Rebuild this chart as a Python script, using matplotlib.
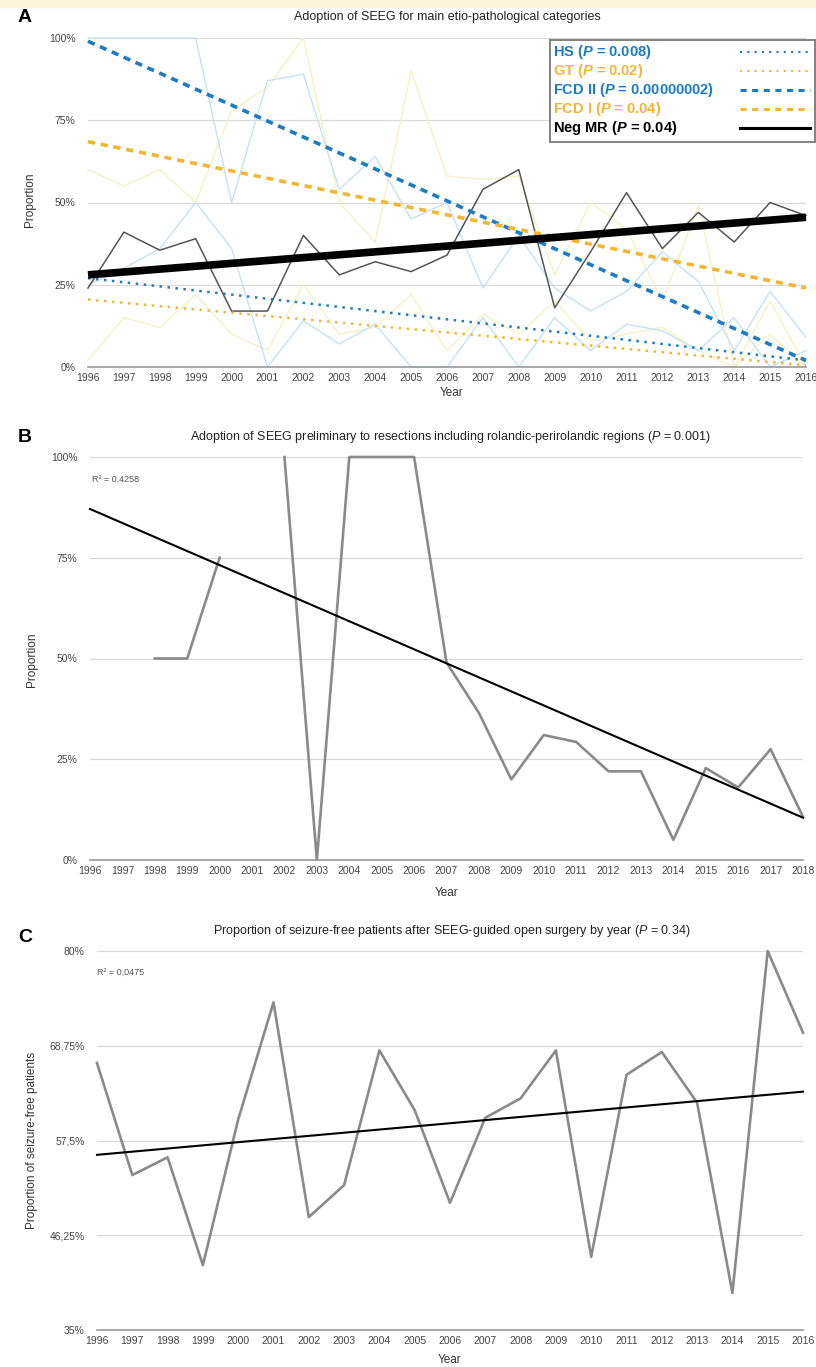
import numpy as np
import matplotlib
matplotlib.use("Agg")
from matplotlib import pyplot as plt
from matplotlib.patches import Rectangle

plt.rcParams['font.family'] = ['Liberation Sans', 'DejaVu Sans']
plt.rcParams['mathtext.fontset'] = 'custom'
plt.rcParams['mathtext.it'] = 'Liberation Sans:italic'
plt.rcParams['mathtext.bf'] = 'Liberation Sans:bold'
plt.rcParams['mathtext.bfit'] = 'Liberation Sans:bold:italic'

# ---- Panel A data (proportions, %) ----
years_a = list(range(1996, 2017))
hs = [25, 30, 36, 50, 36, 0, 14, 7, 13, 0, 0, 15, 0, 15, 5, 13, 11, 5, 15, 0, 5]
gt = [2, 15, 12, 22, 10, 5, 25, 10, 12, 22, 5, 16, 10, 20, 8, 10, 12, 5, 0, 10, 0]
fcd2 = [100, 100, 100, 100, 50, 87, 89, 54, 64, 45, 50, 24, 40, 24, 17, 23, 35, 26, 5, 23, 9]
fcd1 = [60, 55, 60, 50, 78, 85, 100, 50, 38, 90, 58, 57, 58, 28, 50, 42, 20, 49, 0, 20, 0]
neg_mr = [24, 41, 35.5, 39, 17, 17, 40, 28, 32, 29, 34, 54, 60, 18, 35, 53, 36, 47, 38, 50, 46]

# trend lines (start 1996, end 2016)
trend_a = {
    'HS': (27, 2),
    'GT': (20.5, 0.5),
    'FCD II': (99, 2),
    'FCD I': (68.5, 24),
    'Neg MR': (28, 45.5),
}
legend_labels = [
    r'HS ($\mathbfit{P}$ = 0.008)',
    r'GT ($\mathbfit{P}$ = 0.02)',
    r'FCD II ($\mathbfit{P}$ = 0.00000002)',
    r'FCD I ($\mathbfit{P}$ = 0.04)',
    r'Neg MR ($\mathbfit{P}$ = 0.04)',
]

# ---- Panel B data ----
years_b = list(range(1996, 2019))
rolandic = [np.nan, np.nan, 50, 50, 75, np.nan, 100, 0, 100, 100, 100, 49, 36.5, 20,
            31, 29.3, 22, 22, 5, 22.8, 18, 27.5, 10.7]
trend_b = (87.1, 10.5)

# ---- Panel C data ----
years_c = list(range(1996, 2017))
seizure_free = [66.7, 53.4, 55.5, 42.7, 60, 73.9, 48.4, 52.2, 68.2, 61.1, 50.1, 60.2,
                62.5, 68.2, 43.7, 65.3, 68, 62, 39.4, 80, 70.3]
trend_c = (55.8, 63.3)
ticks_c = [35, 46.25, 57.5, 68.75, 80]
ticklabels_c = ['35%', '46,25%', '57,5%', '68,75%', '80%']

BLUE = '#1b7cc4'
YELLOW = '#f3b632'
LBLUE = '#c6e1f2'
LYELLOW = '#f6f1c6'
GRID = '#d9d9d9'
TICK = '#444444'

W, H = 816, 1367
fig = plt.figure(figsize=(W / 100, H / 100), dpi=100)
fig.patches.append(Rectangle((0, 1 - 7 / H), 1, 7 / H, transform=fig.transFigure,
                             color='#fdf3da', zorder=0))


def px_axes(l, r, t, b):
    return fig.add_axes([l / W, 1 - b / H, (r - l) / W, (b - t) / H])


def style(ax, years, yticks, yticklabels, ylim):
    ax.set_xlim(years[0], years[-1])
    ax.set_ylim(*ylim)
    ax.set_xticks(years)
    ax.set_xticklabels([str(y) for y in years])
    ax.set_yticks(yticks)
    ax.set_yticklabels(yticklabels)
    for s in ['top', 'right', 'left']:
        ax.spines[s].set_visible(False)
    ax.spines['bottom'].set_color('#999999')
    ax.spines['bottom'].set_linewidth(1.2)
    ax.tick_params(length=0, labelsize=7.5, colors=TICK)
    ax.tick_params(axis='y', pad=9)
    ax.tick_params(axis='x', pad=4)
    for y in yticks[1:]:
        ax.axhline(y, color=GRID, lw=0.9, zorder=0)


# ---------------- Panel A ----------------
ax = px_axes(88, 806, 38, 367)
style(ax, years_a, [0, 25, 50, 75, 100], ['0%', '25%', '50%', '75%', '100%'], (0, 100))
ax.plot(years_a, gt, color=LYELLOW, lw=1.0, clip_on=False)
ax.plot(years_a, fcd1, color=LYELLOW, lw=1.0, clip_on=False)
ax.plot(years_a, hs, color=LBLUE, lw=1.0, clip_on=False)
ax.plot(years_a, fcd2, color=LBLUE, lw=1.0, clip_on=False)
ax.plot(years_a, neg_mr, color='#555555', lw=1.1, clip_on=False)

ends = [years_a[0], years_a[-1]]
styles = [
    dict(color=BLUE, lw=1.8, ls=(0, (1, 2.2))),
    dict(color=YELLOW, lw=1.8, ls=(0, (1, 2.2))),
    dict(color=BLUE, lw=2.6, ls=(0, (2, 1.6))),
    dict(color=YELLOW, lw=2.6, ls=(0, (2, 1.6))),
    dict(color='black', lw=5.5, solid_capstyle='butt'),
]
for key, st in zip(trend_a, styles):
    ax.plot(ends, trend_a[key], clip_on=False, **st)

# legend box drawn in axes coordinates: text left, line sample right
leg_styles = [
    dict(color=BLUE, lw=1.5, ls=(0, (1, 2.5))),
    dict(color=YELLOW, lw=1.5, ls=(0, (1, 2.5))),
    dict(color=BLUE, lw=2.2, ls=(0, (2, 1.8))),
    dict(color=YELLOW, lw=2.2, ls=(0, (2, 1.8))),
    dict(color='black', lw=2.2),
]
ax.add_patch(Rectangle((0.643, 0.683), 0.370, 0.311, transform=ax.transAxes,
                       facecolor='white', edgecolor='#777777', lw=1.3,
                       clip_on=False, zorder=5))
text_cols = [BLUE, YELLOW, BLUE, YELLOW, 'black']
for i, (lab, st, col) in enumerate(zip(legend_labels, leg_styles, text_cols)):
    yy = (367 - (52 + 19 * i)) / 329
    ax.text(0.648, yy, lab, transform=ax.transAxes, fontsize=10.5, fontweight='bold',
            color=col, va='center', ha='left', zorder=6)
    ax.plot([0.908, 1.006], [yy, yy], transform=ax.transAxes, clip_on=False,
            zorder=6, **st)

fig.text(18 / W, 1 - 17 / H, 'A', fontsize=14, fontweight='bold', va='center')
fig.text(447 / W, 1 - 17 / H, 'Adoption of SEEG for main etio-pathological categories',
         fontsize=9, ha='center', va='center', color='#222222')
fig.text(30 / W, 1 - 200 / H, 'Proportion', rotation=90, fontsize=8.5, ha='center',
         va='center', color='#333333')
fig.text(452 / W, 1 - 393 / H, 'Year', fontsize=8.5, ha='center', va='center',
         color='#333333')

# ---------------- Panel B ----------------
ax = px_axes(90, 803, 457, 860)
style(ax, years_b, [0, 25, 50, 75, 100], ['0%', '25%', '50%', '75%', '100%'], (0, 100))
ax.plot(years_b, rolandic, color='#8a8a8a', lw=1.9, clip_on=False)
ax.plot([years_b[0], years_b[-1]], trend_b, color='black', lw=1.5, clip_on=False)
ax.text(0.003, 0.945, 'R² = 0,4258', transform=ax.transAxes, fontsize=6.5,
        color='#555555', va='center')
fig.text(18 / W, 1 - 437 / H, 'B', fontsize=14, fontweight='bold', va='center')
fig.text(450 / W, 1 - 437 / H,
         r'Adoption of SEEG preliminary to resections including rolandic-perirolandic regions ($\mathit{P}$ = 0.001)',
         fontsize=9, ha='center', va='center', color='#222222')
fig.text(32 / W, 1 - 660 / H, 'Proportion', rotation=90, fontsize=8.5, ha='center',
         va='center', color='#333333')
fig.text(447 / W, 1 - 893 / H, 'Year', fontsize=8.5, ha='center', va='center',
         color='#333333')

# ---------------- Panel C ----------------
ax = px_axes(97, 803, 951, 1330)
style(ax, years_c, ticks_c, ticklabels_c, (35, 80))
ax.plot(years_c, seizure_free, color='#8a8a8a', lw=1.9, clip_on=False)
ax.plot([years_c[0], years_c[-1]], trend_c, color='black', lw=1.5, clip_on=False)
ax.text(0.0, 0.944, 'R² = 0,0475', transform=ax.transAxes, fontsize=6.5,
        color='#555555', va='center')
fig.text(18 / W, 1 - 937 / H, 'C', fontsize=14, fontweight='bold', va='center')
fig.text(452 / W, 1 - 931 / H,
         r'Proportion of seizure-free patients after SEEG-guided open surgery by year ($\mathit{P}$ = 0.34)',
         fontsize=9, ha='center', va='center', color='#222222')
fig.text(32 / W, 1 - 1140 / H, 'Proportion of seizure-free patients', rotation=90,
         fontsize=8.5, ha='center', va='center', color='#333333')
fig.text(450 / W, 1 - 1360 / H, 'Year', fontsize=8.5, ha='center', va='center',
         color='#333333')

fig.savefig('out.png', dpi=100)
